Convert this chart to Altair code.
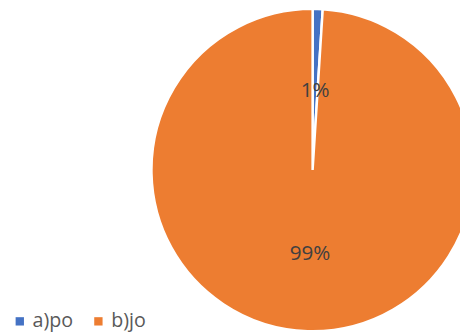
import altair as alt
import pandas as pd

categories = ["a)po", "b)jo"]
values = [1, 99]
labels = ["1%", "99%"]
colors = ["#4472C4", "#ED7D31"]

df = pd.DataFrame({"cat": categories, "val": values, "lab": labels})

base = alt.Chart(df).encode(
    theta=alt.Theta("val:Q", stack=True),
    order=alt.Order("cat:N"),
)

CX, CY = 310, 162

pie = base.mark_arc(outerRadius=164, stroke="white", strokeWidth=2.5).encode(
    x=alt.value(CX), y=alt.value(CY),
    color=alt.Color(
        "cat:N",
        scale=alt.Scale(domain=categories, range=colors),
        legend=alt.Legend(
            title=None, orient="none", legendX=2, legendY=306,
            direction="horizontal", symbolType="square", symbolSize=72,
            symbolStrokeWidth=0, labelFontSize=20, labelFont="Open Sans",
            labelColor="#595959", labelOffset=3, columnPadding=15,
        ),
    ),
)

text = base.mark_text(radius=83, dy=3, fontSize=21, font="Open Sans", color="#404040").encode(
    x=alt.value(CX), y=alt.value(CY),
    text="lab:N",
)

chart = (pie + text).properties(
    width=460, height=328, padding=0,
    autosize=alt.AutoSizeParams(type="none"),
).configure_view(stroke=None)

chart.save("out.html", embed_options={"renderer": "svg", "actions": False})
